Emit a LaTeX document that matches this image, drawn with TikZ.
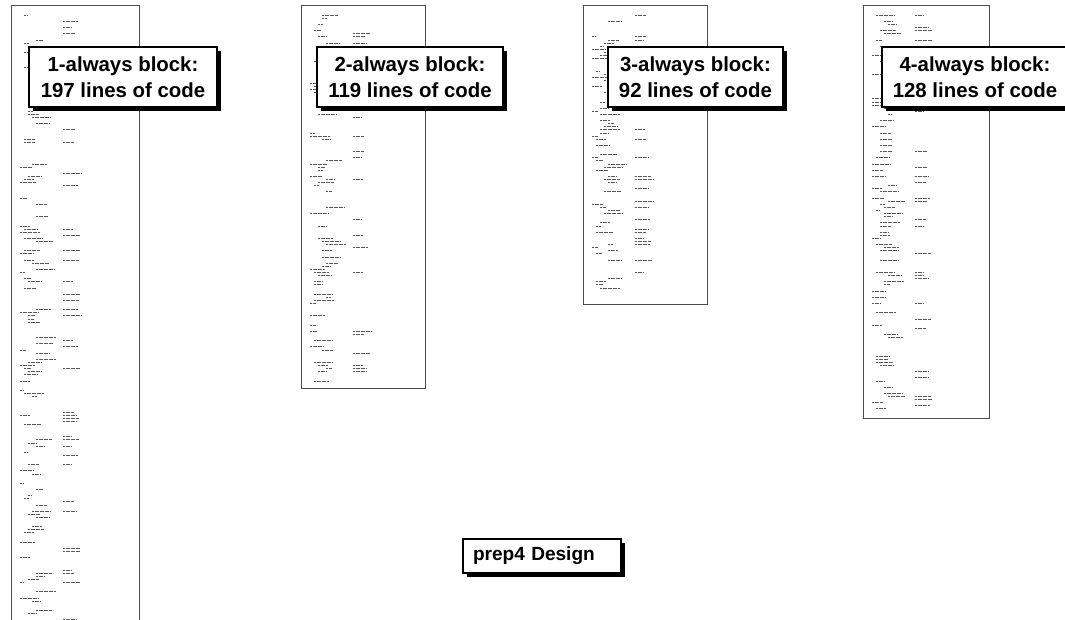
\documentclass[tikz,border=0pt]{standalone}
\usepackage{fontspec}
\setmainfont{Liberation Sans}
\usetikzlibrary{shadows}
\tikzset{
  panel/.style={draw=black!70, line width=0.75pt, fill=white, inner sep=0pt},
  codeline/.style={draw=black!65, line width=0.6pt, dash pattern=on 1.5pt off 0.4pt},
  labelbox/.style={draw=black, line width=1.1pt, fill=white, inner sep=0pt,
    align=center, font=\bfseries\fontsize{15.3}{19.5}\selectfont,
    minimum height=45pt,
    drop shadow={shadow xshift=3pt, shadow yshift=-3pt, fill=black, opacity=1}},
  designbox/.style={draw=black, line width=1.1pt, fill=white, inner ysep=0pt, inner xsep=7.5pt,
    align=left, text width=103.5pt, minimum height=25.5pt,
    font=\bfseries\fontsize{14.3}{16}\selectfont,
    drop shadow={shadow xshift=3pt, shadow yshift=-3pt, fill=black, opacity=1}}
}
\newcommand{\mycodelines}[4]{%
  \pgfmathsetseed{#4}%
  \foreach \i in {1,...,#3}{%
    \pgfmathsetmacro{\yy}{#2+7+3.1*\i}%
    \pgfmathtruncatemacro{\ind}{random(0,4)*4}%
    \pgfmathtruncatemacro{\len}{4+random(0,16)}%
    \pgfmathtruncatemacro{\show}{random(0,9)}%
    \pgfmathtruncatemacro{\sec}{random(0,9)}%
    \pgfmathtruncatemacro{\slen}{8+random(0,10)}%
    \ifnum\show>4 \draw[codeline] ({#1+9+\ind},\yy) -- ++(\len,0);\fi
    \ifnum\sec>7 \draw[codeline] ({#1+52},\yy) -- ++(\slen,0);\fi
  }%
}
\begin{document}
\begin{tikzpicture}[x=0.75pt,y=-0.75pt]
\useasboundingbox (0,0) rectangle (1065,619);
\clip (0,0) rectangle (1065,619);
% code panels
\node[panel, minimum width=96pt, minimum height=476.25pt] (p1) at (75,322.5) {};
\node[panel, minimum width=93pt, minimum height=287.25pt] (p2) at (363,196.5) {};
\node[panel, minimum width=93pt, minimum height=224.25pt] (p3) at (645,154.5) {};
\node[panel, minimum width=94.5pt, minimum height=309.75pt] (p4) at (926,211.5) {};
\mycodelines{11}{5}{197}{11}
\mycodelines{301}{5}{119}{23}
\mycodelines{583}{5}{92}{37}
\mycodelines{863}{5}{128}{51}
% labels
\node[labelbox, minimum width=141pt] (l1) at (123,77) {1-always block:\\197 lines of code};
\node[labelbox, minimum width=139.5pt] (l2) at (410,77) {2-always block:\\119 lines of code};
\node[labelbox, minimum width=131.25pt] (l3) at (695.5,77) {3-always block:\\92 lines of code};
\node[labelbox, minimum width=139.5pt] (l4) at (975,77) {4-always block:\\128 lines of code};
\node[designbox] (d) at (542,556) {prep4 Design};
\end{tikzpicture}
\end{document}
